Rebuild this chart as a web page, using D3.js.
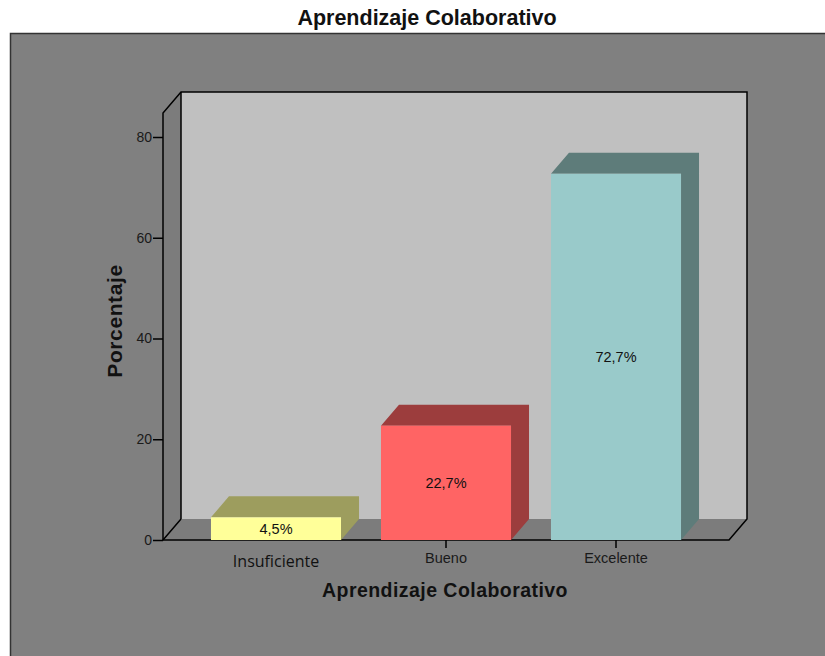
<!DOCTYPE html>
<html>
<head>
    <title>Aprendizaje Colaborativo</title>
    <script src="https://d3js.org/d3.v7.min.js"></script>
    <style>
        body { margin: 0; background: #fff; }
        .axis text { font-family: "Liberation Sans", Arial, sans-serif; fill: #1a1a1a; }
        .axis line { stroke: #000; stroke-width: 1.5; }
        .bar-label { font-family: "Liberation Sans", Arial, sans-serif; font-size: 14.5px; fill: #111; text-anchor: middle; }
    </style>
</head>
<body>
<div id="chart"></div>
<script>
    // datos
    const categorias = ["Insuficiente", "Bueno", "Excelente"];
    const porcentajes = [4.5, 22.7, 72.7];
    const etiquetas = ["4,5%", "22,7%", "72,7%"];
    const ticksY = [0, 20, 40, 60, 80];

    const colores = {
        Insuficiente: { front: "#ffff99", side: "#9d9d5e" },
        Bueno: { front: "#ff6464", side: "#9c3d3d" },
        Excelente: { front: "#99caca", side: "#5e7c7a" }
    };

    const W = 825, H = 656;
    const dx = 18, dy = -21;          // profundidad 3D
    const x0 = 163, x1 = 729;         // borde frontal del suelo
    const yTop = 113;                 // tope del eje

    const svg = d3.select("#chart").append("svg")
        .attr("width", W).attr("height", H);

    // titulo
    svg.append("text")
        .attr("x", 427).attr("y", 25)
        .attr("text-anchor", "middle")
        .style("font-family", "Liberation Sans, Arial, sans-serif")
        .style("font-size", "21.5px")
        .style("font-weight", "bold")
        .style("fill", "#111")
        .text("Aprendizaje Colaborativo");

    // panel exterior
    svg.append("rect")
        .attr("x", 10.5).attr("y", 33.5)
        .attr("width", 830).attr("height", 640)
        .attr("fill", "#808080")
        .attr("stroke", "#333").attr("stroke-width", 1.5);

    const y = d3.scaleLinear().domain([0, 80]).range([540, 137]);
    const x = d3.scaleBand().domain(categorias).range([191, 701]).paddingInner(0.235).paddingOuter(0.1175);

    const y0 = y(0);

    // pared trasera
    svg.append("rect")
        .attr("x", x0 + dx).attr("y", yTop + dy)
        .attr("width", x1 - x0).attr("height", y0 - yTop)
        .attr("fill", "#c0c0c0");

    // pared izquierda
    svg.append("path")
        .attr("d", `M${x0},${y0} L${x0},${yTop} L${x0 + dx},${yTop + dy} L${x0 + dx},${y0 + dy} Z`)
        .attr("fill", "#7c7c7c");

    // suelo
    svg.append("path")
        .attr("d", `M${x0},${y0} L${x0 + dx},${y0 + dy} L${x1 + dx},${y0 + dy} L${x1},${y0} Z`)
        .attr("fill", "#7c7c7c");

    // bordes
    const edges = svg.append("g").attr("fill", "none").attr("stroke", "#000").attr("stroke-width", 1.5);
    edges.append("path").attr("d", `M${x0},${y0} L${x0},${yTop} L${x0 + dx},${yTop + dy} L${x1 + dx},${yTop + dy} L${x1 + dx},${y0 + dy} L${x1},${y0} L${x0},${y0}`);
    edges.append("path").attr("d", `M${x0},${y0} L${x0 + dx},${y0 + dy} M${x0 + dx},${yTop + dy} L${x0 + dx},${y0 + dy}`);

    // barras
    const bars = svg.append("g").selectAll("g")
        .data(categorias.map((c, i) => ({ c, v: porcentajes[i], lab: etiquetas[i] })))
        .enter().append("g");

    bars.append("path")
        .attr("fill", d => colores[d.c].side)
        .attr("d", d => {
            const l = x(d.c), r = l + x.bandwidth(), t = y(d.v);
            return `M${l},${t} L${l + dx},${t + dy} L${r + dx},${t + dy} L${r + dx},${y0 + dy} L${r},${y0} L${r},${t} Z`;
        });

    bars.append("rect")
        .attr("x", d => x(d.c))
        .attr("y", d => y(d.v))
        .attr("width", x.bandwidth())
        .attr("height", d => y0 - y(d.v))
        .attr("fill", d => colores[d.c].front);

    bars.append("text")
        .attr("class", "bar-label")
        .attr("x", d => x(d.c) + x.bandwidth() / 2)
        .attr("y", d => (y(d.v) + y0) / 2)
        .attr("dy", "0.35em")
        .text(d => d.lab);

    // eje Y
    const yAxis = svg.append("g")
        .attr("class", "axis")
        .attr("transform", `translate(${x0},0)`)
        .call(d3.axisLeft(y).tickValues(ticksY).tickSize(10).tickPadding(1));
    yAxis.select(".domain").remove();
    yAxis.selectAll(".tick text").style("font-size", "14px");

    // eje X
    const xAxis = svg.append("g")
        .attr("class", "axis")
        .attr("transform", `translate(0,${y0})`)
        .call(d3.axisBottom(x).tickSize(8).tickPadding(5));
    xAxis.select(".domain").remove();
    xAxis.selectAll(".tick text").style("font-size", "14.5px");
    xAxis.selectAll(".tick").filter(d => d === "Insuficiente").select("line").remove();
    xAxis.selectAll(".tick text").filter(d => d === "Insuficiente")
        .style("font-family", "Open Sans, sans-serif")
        .style("font-size", "16px")
        .style("fill", "#111")
        .attr("y", 15.5);

    // titulos de ejes
    svg.append("text")
        .attr("x", 445).attr("y", 597)
        .attr("text-anchor", "middle")
        .style("font-family", "Liberation Sans, Arial, sans-serif")
        .style("font-size", "19.5px").style("font-weight", "bold")
        .style("letter-spacing", "0.45px")
        .style("fill", "#111")
        .text("Aprendizaje Colaborativo");

    svg.append("text")
        .attr("transform", "translate(122,321) rotate(-90)")
        .attr("text-anchor", "middle")
        .style("font-family", "Liberation Sans, Arial, sans-serif")
        .style("font-size", "21px").style("font-weight", "bold")
        .style("letter-spacing", "0.6px")
        .style("fill", "#111")
        .text("Porcentaje");
</script>
</body>
</html>
